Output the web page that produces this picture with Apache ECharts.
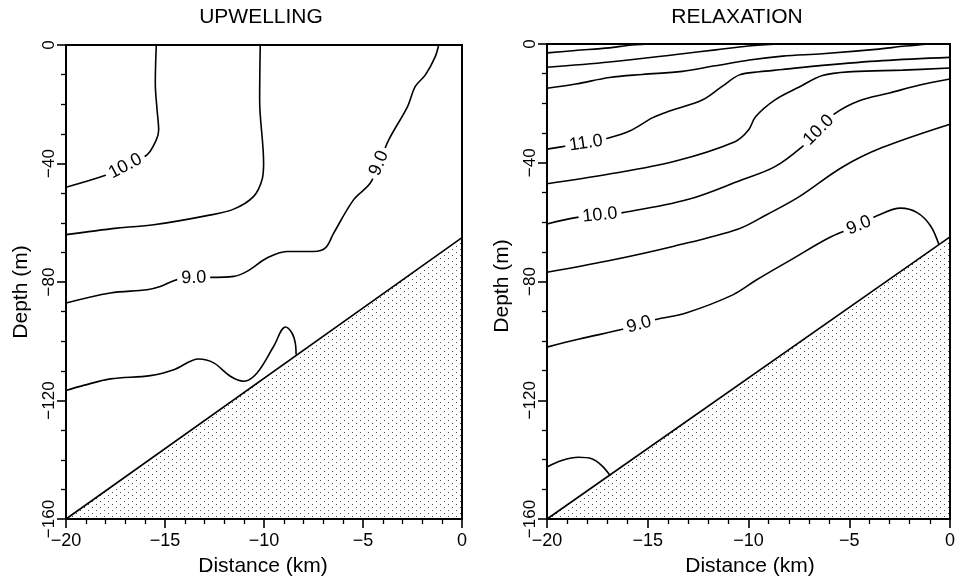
<!DOCTYPE html>
<html><head><meta charset="utf-8">
<script src="https://cdn.jsdelivr.net/npm/echarts@6/dist/echarts.min.js"></script>
<style>html,body{margin:0;padding:0;background:#fff}#c{width:960px;height:584px}</style>
</head><body><div id="c"></div>
<script>
// ---------------- data ----------------
const panelTitles = ['UPWELLING', 'RELAXATION'];
const xAxisName = 'Distance (km)';
const yAxisName = 'Depth (m)';
const xRange = [-20, 0];
const yRange = [-160, 0];
const xMajorStep = 5;
const yMajorStep = 40;

// sloping bottom (shelf) : distance km, depth m
const shelf = [[-20, -160], [0, -65]];

// UPWELLING contours
const upContour1 = [[-15.44,0],[-15.49,-12.9],[-15.40,-21.9],[-15.32,-28.7],[-15.44,-32.0],[-15.91,-37.1],[-17.0,-40.9],[-17.93,-43.8],[-20,-48.0]];
const upContour2 = [[-10.19,0],[-10.22,-18.5],[-10.02,-39.9],[-10.10,-45.5],[-10.52,-51.1],[-11.53,-55.4],[-12.88,-57.6],[-15.57,-60.7],[-17.42,-61.8],[-20,-64.0]];
const upContour3 = [[-1.18,0],[-1.35,-3.9],[-1.85,-10.1],[-2.36,-14.0],[-2.75,-20.8],[-3.70,-32.0],[-4.19,-39.9],[-4.63,-46.6],[-5.47,-52.2],[-6.48,-63.5],[-6.90,-68.5],[-7.49,-69.7],[-8.84,-69.7],[-9.85,-71.9],[-10.86,-76.4],[-11.53,-78.1],[-13.55,-78.6],[-14.39,-79.2],[-15.24,-81.5],[-15.91,-82.6],[-17.76,-83.7],[-20,-87.1]];
const upContour4 = [[-20,-116.6],[-19.11,-114.9],[-17.76,-112.7],[-15.74,-111.6],[-14.56,-109.6],[-13.30,-106.0],[-12.54,-107.3],[-11.70,-111.8],[-11.03,-113.5],[-10.35,-110.7],[-9.51,-101.7],[-8.92,-95.2],[-8.59,-97.2],[-8.42,-100.6],[-8.38,-104.5]];
const upContours = [upContour1, upContour2, upContour3, upContour4];
// contour labels: [distance, depth, text, contour index]
const upLabels = [[-17.0,-40.9,'10.0',0],[-4.19,-39.9,'9.0',2],[-13.55,-78.6,'9.0',2]];

// RELAXATION contours
const relContour1 = [[-20,-3.0],[-18.6,-2.2],[-16.9,-1.3],[-16.0,-0.5],[-15.0,0]];
const relContour2 = [[-20,-7.85],[-16.9,-6.06],[-13.27,-3.26],[-11.63,-1.97],[-10.0,-0.7],[-8.5,0]];
const relContour3 = [[-20,-14.9],[-18.58,-13.5],[-16.9,-11.3],[-15.27,-10.26],[-13.29,-9.22],[-11.65,-7.35],[-9.95,-5.39],[-8.31,-4.1],[-6.33,-3.27],[-3.69,-1.8],[-2.2,-0.7],[-1.0,0]];
const relContour4 = [[-20,-35.4],[-18.97,-34.3],[-18.07,-33.4],[-17.18,-32.1],[-15.9,-29.3],[-14.75,-24.8],[-13.92,-22.6],[-12.27,-18.8],[-11.31,-14.3],[-10.45,-10.4],[-9.46,-9.36],[-8.32,-8.6],[-6.33,-7.2],[-3.35,-5.6],[0,-4.5]];
const relContour5 = [[-20,-47.1],[-16.97,-43.9],[-13.66,-39.5],[-10.67,-32.9],[-10.0,-29.0],[-9.65,-24.5],[-8.7,-18.9],[-7.48,-14.5],[-6.33,-10.6],[-4.84,-9.3],[-2.35,-8.8],[0,-8.1]];
const relContour6 = [[-20,-60.6],[-18.5,-58.4],[-17.37,-57.6],[-16.25,-56.8],[-13.02,-52.4],[-10.35,-45.8],[-8.71,-41.4],[-7.36,-34.7],[-6.52,-29.0],[-5.7,-23.4],[-4.5,-19.1],[-3.0,-16.5],[-1.5,-13.8],[0,-11.8]];
const relContour7 = [[-20,-76.9],[-17.01,-73.1],[-13.7,-68.1],[-10.5,-62.3],[-9.1,-57.5],[-7.5,-51.5],[-5.35,-41.5],[-3.37,-34.9],[0,-27.0]];
const relContour8 = [[-20,-102.1],[-18.4,-99.4],[-16.25,-96.1],[-15.43,-94.5],[-14.6,-92.8],[-13.1,-90.6],[-10.78,-84.5],[-9.61,-79.5],[-7.92,-72.8],[-5.93,-65.0],[-4.52,-61.1],[-3.6,-57.8],[-2.45,-55.3],[-1.63,-56.8],[-0.97,-61.2],[-0.56,-67.4]];
const relContour9 = [[-20,-142.5],[-19.27,-140.3],[-18.44,-139.2],[-17.78,-139.7],[-17.28,-142.0],[-16.86,-145.4]];
const relContours = [relContour1, relContour2, relContour3, relContour4, relContour5, relContour6, relContour7, relContour8, relContour9];
const relLabels = [[-18.07,-33.4,'11.0',3],[-17.37,-57.6,'10.0',5],[-6.52,-29.0,'10.0',5],[-15.43,-94.5,'9.0',7],[-4.52,-61.1,'9.0',7]];

const panels = [
  {contours: upContours, labels: upLabels},
  {contours: relContours, labels: relLabels}
];

// ---------------- styling / layout ----------------
const FONT = 'Liberation Sans, Arial, Helvetica, sans-serif';
const grids = [
  {left: 66, top: 45, width: 396, height: 474},
  {left: 547, top: 44, width: 403, height: 475}
];
const minus = v => String(v).replace('-', '\u2212');

// stipple pattern for the sea floor
const pat = document.createElement('canvas');
pat.width = 8; pat.height = 6;
const pctx = pat.getContext('2d');
pctx.fillStyle = '#4a4a4a';
pctx.fillRect(0, 0, 1, 1);
pctx.fillRect(4, 3, 1, 1);

const chart = echarts.init(document.getElementById('c'), null, {renderer: 'canvas'});

function baseOption() {
  const xAxis = [], yAxis = [], gridOpt = [], series = [];
  grids.forEach((g, i) => {
    gridOpt.push(Object.assign({show: true, borderColor: '#000', borderWidth: 2, backgroundColor: 'transparent', containLabel: false, outerBoundsMode: 'none'}, g));
    xAxis.push({
      type: 'value', gridIndex: i, min: xRange[0], max: xRange[1], interval: xMajorStep,
      axisLine: {show: true, onZero: false, lineStyle: {color: '#000', width: 2}},
      axisTick: {show: true, length: 9, lineStyle: {color: '#000', width: 1.6}},
      minorTick: {show: true, splitNumber: 5, length: 5, lineStyle: {color: '#000', width: 1.3}},
      splitLine: {show: false},
      axisLabel: {show: true, margin: 13, color: '#000', fontSize: 18, fontFamily: FONT, formatter: minus, showMinLabel: true, showMaxLabel: true, hideOverlap: false}
    });
    yAxis.push({
      type: 'value', gridIndex: i, min: yRange[0], max: yRange[1], interval: yMajorStep,
      axisLine: {show: true, onZero: false, lineStyle: {color: '#000', width: 2}},
      axisTick: {show: true, length: 9, lineStyle: {color: '#000', width: 1.6}},
      minorTick: {show: true, splitNumber: 4, length: 5, lineStyle: {color: '#000', width: 1.3}},
      splitLine: {show: false},
      axisLabel: {show: true, rotate: 90, margin: 8, color: '#000', fontSize: 17, fontFamily: FONT, formatter: minus, showMinLabel: true, showMaxLabel: true, hideOverlap: false}
    });
    series.push({
      type: 'line', xAxisIndex: i, yAxisIndex: i, data: shelf, symbol: 'none', silent: true, z: 2,
      lineStyle: {color: '#000', width: 1.6},
      areaStyle: {origin: 'start', opacity: 1, color: {image: pat, repeat: 'repeat'}}
    });
    panels[i].contours.forEach(c => {
      series.push({
        type: 'line', xAxisIndex: i, yAxisIndex: i, data: c, symbol: 'none', smooth: 0.35, silent: true, z: 3,
        lineStyle: {color: '#000', width: 1.6}
      });
    });
  });
  const t = (text, x, y, rot) => ({type: 'text', x, y, rotation: rot || 0, silent: true,
    style: {text, font: '21px ' + FONT, fill: '#000', textAlign: 'center', textVerticalAlign: 'middle'}});
  return {
    animation: false,
    backgroundColor: '#fff',
    grid: gridOpt, xAxis, yAxis, series,
    graphic: [
      t(panelTitles[0], 261, 17), t(panelTitles[1], 737, 17),
      t(xAxisName, 263, 566), t(xAxisName, 750, 566),
      t(yAxisName, 21, 292, Math.PI / 2), t(yAxisName, 502, 286, Math.PI / 2)
    ]
  };
}

const opt = baseOption();
chart.setOption(opt);

function segDist(p, a, b) {
  const dx = b[0] - a[0], dy = b[1] - a[1];
  const l2 = dx * dx + dy * dy || 1;
  let t = ((p[0] - a[0]) * dx + (p[1] - a[1]) * dy) / l2;
  t = Math.max(0, Math.min(1, t));
  return Math.hypot(p[0] - (a[0] + t * dx), p[1] - (a[1] + t * dy));
}

function labelAngle(gi, pts, lab) {
  const P = pts.map(p => chart.convertToPixel({gridIndex: gi}, p));
  const L = chart.convertToPixel({gridIndex: gi}, [lab[0], lab[1]]);
  let best = 0, bd = Infinity;
  for (let k = 0; k < P.length - 1; k++) {
    const d = segDist(L, P[k], P[k + 1]);
    if (d < bd) { bd = d; best = k; }
  }
  const a = P[best], b = P[best + 1];
  let ang = Math.atan2(-(b[1] - a[1]), b[0] - a[0]) * 180 / Math.PI;
  if (ang > 90) ang -= 180;
  if (ang < -90) ang += 180;
  return ang;
}

const labelStyle = {show: true, position: 'inside', color: '#000', fontSize: 18, fontFamily: FONT,
  backgroundColor: '#fff', padding: [0, 4], textBorderWidth: 0, opacity: 1};

const labelSeries = panels.map((p, gi) => ({
  type: 'scatter', xAxisIndex: gi, yAxisIndex: gi, symbolSize: 1, silent: true, z: 6,
  itemStyle: {color: '#fff', opacity: 1},
  data: p.labels.map(l => ({
    value: [l[0], l[1]],
    label: Object.assign({}, labelStyle, {formatter: l[2], rotate: labelAngle(gi, p.contours[l[3]], l)})
  })),
  label: labelStyle
}));

opt.series = opt.series.concat(labelSeries);
chart.setOption(opt, true);
</script>
</body></html>
